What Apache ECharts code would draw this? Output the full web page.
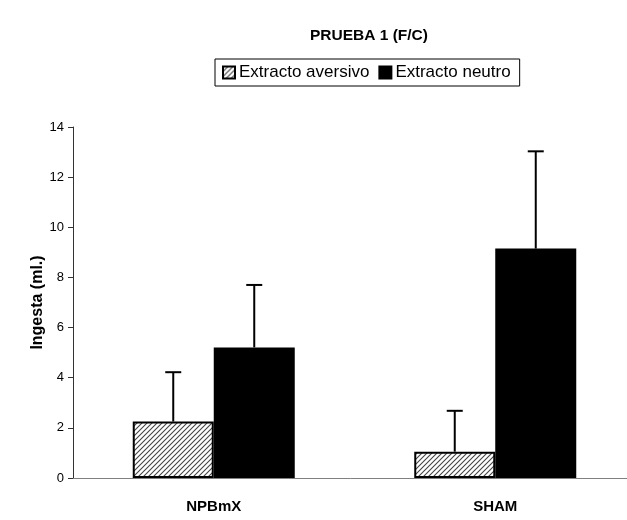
<!DOCTYPE html>
<html>
<head>
<meta charset="utf-8">
<script src="https://cdn.jsdelivr.net/npm/echarts@6/dist/echarts.min.js"></script>
<style>
  html, body { margin: 0; padding: 0; background: #fff; }
  #chart { width: 627px; height: 520px; }
</style>
</head>
<body>
<div id="chart"></div>
<script>
// datos
const categories = ['NPBmX', 'SHAM'];
const seriesNames = ['Extracto aversivo', 'Extracto neutro'];
const aversivo = [2.25, 1.05];
const aversivoErr = [1.97, 1.63];
const neutro = [5.21, 9.15];
const neutroErr = [2.49, 3.88];
const yTicks = [0, 2, 4, 6, 8, 10, 12, 14];

const FONT = '"Liberation Sans", Arial, sans-serif';
const BAR_W = 81;

// trama rayada para la serie "aversivo"
function hatch() {
  const c = document.createElement('canvas');
  c.width = 5; c.height = 5;
  const ctx = c.getContext('2d');
  ctx.fillStyle = '#fff';
  ctx.fillRect(0, 0, 5, 5);
  ctx.strokeStyle = '#444';
  ctx.lineWidth = 1.1;
  ctx.beginPath();
  ctx.moveTo(-1, 6); ctx.lineTo(6, -1);
  ctx.moveTo(-1, 1); ctx.lineTo(1, -1);
  ctx.moveTo(4, 6); ctx.lineTo(6, 4);
  ctx.stroke();
  return c;
}

function errorBars(vals, errs, offset) {
  return {
    type: 'custom',
    silent: true,
    z: 5,
    data: vals.map((v, i) => [i, v, v + errs[i]]),
    renderItem: function (params, api) {
      const base = api.coord([api.value(0), api.value(1)]);
      const top = api.coord([api.value(0), api.value(2)]);
      const x = base[0] + offset;
      const style = { stroke: '#000', lineWidth: 2 };
      return {
        type: 'group',
        children: [
          { type: 'line', shape: { x1: x, y1: base[1], x2: x, y2: top[1] }, style: style },
          { type: 'line', shape: { x1: x - 8, y1: top[1], x2: x + 8, y2: top[1] }, style: style }
        ]
      };
    }
  };
}

const chart = echarts.init(document.getElementById('chart'));
chart.setOption({
  backgroundColor: '#fff',
  animation: false,
  textStyle: { fontFamily: FONT },
  title: {
    text: 'PRUEBA 1 (F/C)',
    left: 305,
    top: 23,
    textStyle: { fontFamily: FONT, fontSize: 15.5, fontWeight: 'bold', color: '#000' }
  },
  legend: {
    data: seriesNames,
    left: 215,
    top: 59,
    padding: [5, 9, 5, 7],
    itemGap: 9,
    itemWidth: 12,
    itemHeight: 12,
    icon: 'rect',
    borderColor: '#000',
    borderWidth: 1,
    backgroundColor: '#fff',
    textStyle: { fontFamily: FONT, fontSize: 17, color: '#000', padding: [0, 0, 0, -1] }
  },
  grid: { left: 73, width: 563, top: 127, bottom: 42, containLabel: false, outerBoundsMode: 'none' },
  xAxis: {
    type: 'category',
    data: categories,
    axisTick: { show: false },
    axisLine: { lineStyle: { color: '#808080', width: 1 } },
    axisLabel: { fontFamily: FONT, fontSize: 15, fontWeight: 'bold', color: '#000', margin: 21 }
  },
  yAxis: {
    type: 'value',
    min: yTicks[0],
    max: yTicks[yTicks.length - 1],
    interval: 2,
    name: 'Ingesta (ml.)',
    nameLocation: 'middle',
    nameGap: 27,
    nameMoveOverlap: false,
    nameTextStyle: { fontFamily: FONT, fontSize: 16, fontWeight: 'bold', color: '#000' },
    axisLine: { show: true, lineStyle: { color: '#333', width: 1 } },
    axisTick: { show: true, length: 5, lineStyle: { color: '#333' } },
    axisLabel: { fontFamily: FONT, fontSize: 13, color: '#000', margin: 9 },
    splitLine: { show: false }
  },
  series: [
    {
      name: seriesNames[0],
      type: 'bar',
      data: aversivo,
      barWidth: BAR_W,
      barGap: '0%',
      itemStyle: { color: { image: hatch(), repeat: 'repeat' }, borderColor: '#000', borderWidth: 2 }
    },
    {
      name: seriesNames[1],
      type: 'bar',
      data: neutro,
      barWidth: BAR_W,
      barGap: '0%',
      itemStyle: { color: '#000', borderColor: '#000', borderWidth: 2 }
    },
    errorBars(aversivo, aversivoErr, -BAR_W / 2),
    errorBars(neutro, neutroErr, BAR_W / 2)
  ]
});
</script>
</body>
</html>
